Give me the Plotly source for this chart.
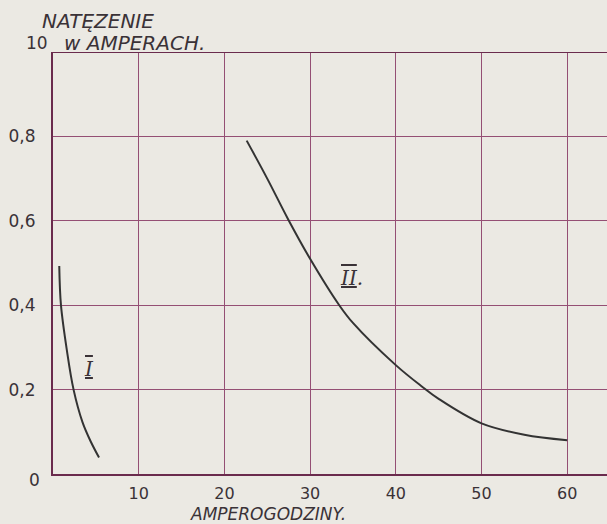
import plotly.graph_objects as go

# Curve I
curve1_x = [0.73, 0.93, 1.62, 2.4, 3.44, 4.4, 5.37]
curve1_y = [0.493, 0.40, 0.293, 0.20, 0.123, 0.077, 0.039]

# Curve II
curve2_x = [22.6, 25, 27.4, 30, 33.4, 35, 40, 43, 45, 50, 55, 60]
curve2_y = [0.79, 0.70, 0.605, 0.51, 0.40, 0.358, 0.258, 0.208, 0.178, 0.12, 0.093, 0.08]

x_tickvals = [10, 20, 30, 40, 50, 60]
x_ticktext = ["10", "20", "30", "40", "50", "60"]
y_tickvals = [0.2, 0.4, 0.6, 0.8]
y_ticktext = ["0,2", "0,4", "0,6", "0,8"]

BG = "#ebe9e3"
GRID = "#944f74"
AXIS = "#6a2b4d"
INK = "#3a3237"
CURVE = "#333333"
FONT = "DejaVu Sans"

L, R, T, B = 53, 0, 52, 50
W, H = 607, 524
PW, PH = W - L - R, H - T - B

def px(xp):
    return (xp - L) / PW

def py(yp):
    return (H - B - yp) / PH

fig = go.Figure()
fig.add_trace(go.Scatter(x=curve1_x, y=curve1_y, mode="lines",
                         line=dict(color=CURVE, width=2, shape="spline", smoothing=1.0),
                         showlegend=False, hoverinfo="skip"))
fig.add_trace(go.Scatter(x=curve2_x, y=curve2_y, mode="lines",
                         line=dict(color=CURVE, width=2, shape="spline", smoothing=1.0),
                         showlegend=False, hoverinfo="skip"))

fig.update_layout(
    width=W, height=H,
    margin=dict(l=L, r=R, t=T, b=B, autoexpand=False),
    paper_bgcolor=BG, plot_bgcolor=BG,
    font=dict(family=FONT, color=INK, size=16),
    xaxis=dict(range=[0, PW / 8.57], tickvals=x_tickvals, ticktext=x_ticktext,
               showgrid=True, gridcolor=GRID, gridwidth=1,
               showline=True, linecolor=AXIS, linewidth=2, zeroline=False,
               ticks="", ticklabelstandoff=4, automargin=False,
               tickfont=dict(size=16, color=INK, family=FONT)),
    yaxis=dict(range=[0, 1.0], tickvals=y_tickvals + [1.0], ticktext=y_ticktext + [""],
               showgrid=True, gridcolor=GRID, gridwidth=1,
               showline=True, linecolor=AXIS, linewidth=2, zeroline=False,
               ticks="", ticklabelstandoff=12, automargin=False,
               tickfont=dict(size=17, color=INK, family=FONT)),
)

# top boundary line (1.0 gridline, drawn heavier)
fig.add_shape(type="line", xref="paper", yref="y", x0=0, x1=1, y0=1.0, y1=1.0,
              line=dict(color=AXIS, width=2))

ann = [
    dict(text="NATĘZENIE", x=px(40), y=py(21), xanchor="left", yanchor="middle",
         font=dict(size=20, style="italic")),
    dict(text="w AMPERACH.", x=px(62), y=py(43), xanchor="left", yanchor="middle",
         font=dict(size=20, style="italic")),
    dict(text="10", x=px(37), y=py(43), xanchor="center", yanchor="middle",
         font=dict(size=17)),
    dict(text="0", x=px(34), y=py(480), xanchor="center", yanchor="middle",
         font=dict(size=17)),
    dict(text="AMPEROGODZINY.", x=px(268), y=py(514), xanchor="center", yanchor="middle",
         font=dict(size=17, style="italic")),
]
for a in ann:
    fig.add_annotation(xref="paper", yref="paper", showarrow=False, **a)

fig.add_annotation(xref="x", yref="y", x=4.2, y=0.25, showarrow=False,
                   text="<span style='text-decoration:overline underline'>I</span>",
                   font=dict(size=20, family="DejaVu Serif", style="italic", color=INK))
fig.add_annotation(xref="x", yref="y", x=34.8, y=0.465, showarrow=False,
                   text="<span style='text-decoration:overline underline'>II</span>.",
                   font=dict(size=20, family="DejaVu Serif", style="italic", color=INK))

fig.write_html("out.html", config={"displayModeBar": False},
               post_script="document.body.style.margin='0';document.body.style.overflow='hidden';")
